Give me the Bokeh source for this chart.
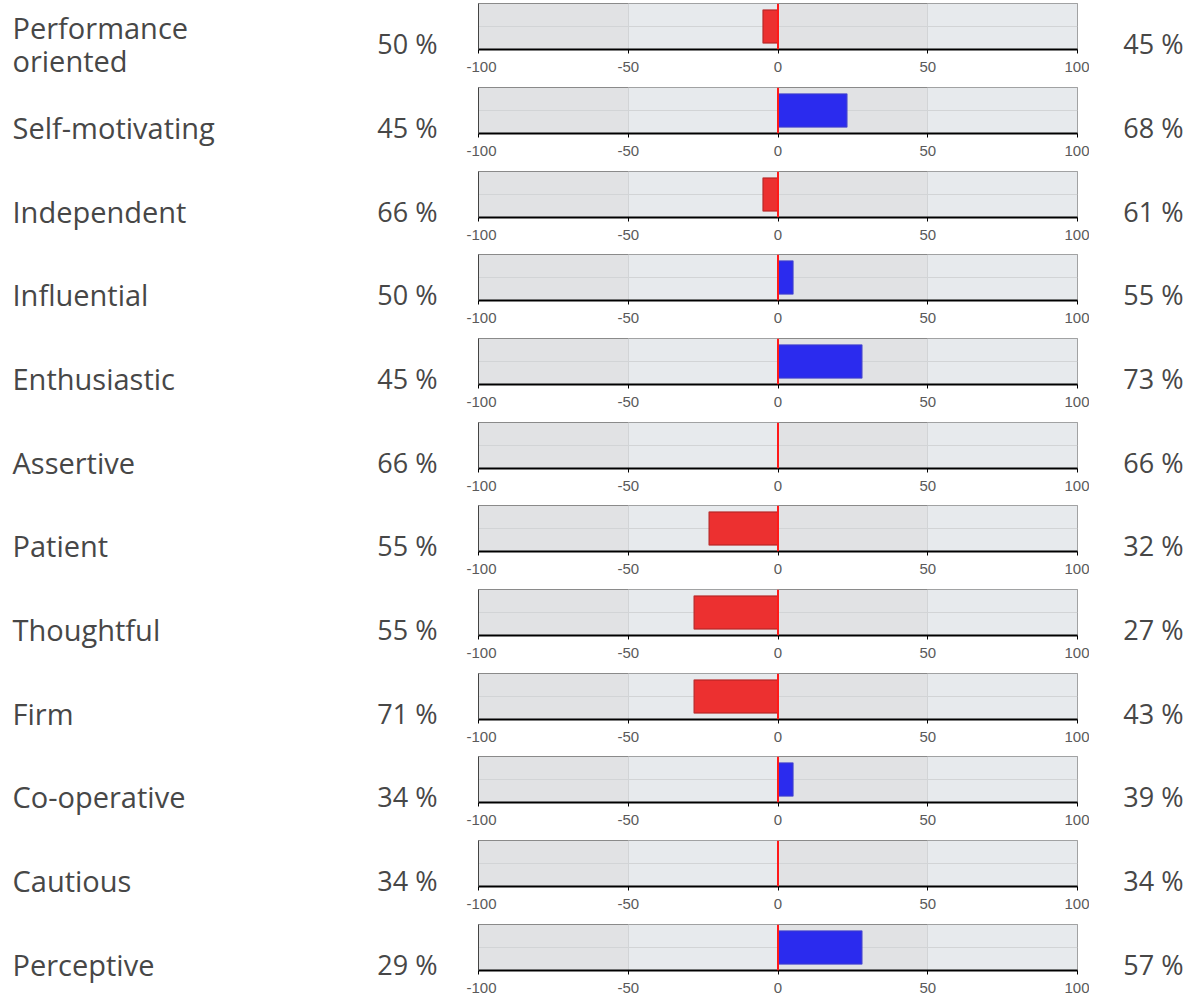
from bokeh.plotting import figure
from bokeh.layouts import column, row
from bokeh.models import Range1d, FixedTicker, Span
from bokeh.core.properties import value
from bokeh.embed import file_html
from bokeh.resources import INLINE

traits = ["Performance\noriented", "Self-motivating", "Independent", "Influential",
          "Enthusiastic", "Assertive", "Patient", "Thoughtful", "Firm",
          "Co-operative", "Cautious", "Perceptive"]
left_pct = [50, 45, 66, 50, 45, 66, 55, 55, 71, 34, 34, 29]
right_pct = [45, 68, 61, 55, 73, 66, 32, 27, 43, 39, 34, 57]
axis_ticks = [-100, -50, 0, 50, 100]
tick_text = {-100: "-100", -50: "-50", 0: "0", 50: "50", 100: "100"}

row_heights = [84, 84, 83, 84, 84, 83, 84, 84, 83, 84, 84, 77]

FONT = value("Open Sans")
TXT = "#474747"
LEFT_W, MAIN_W, RIGHT_W = 466, 623, 100
TEXT_MID = 43      # px from the row top
LINE_GAP = 33      # px between wrapped lines
H = sum(row_heights)


def text_fig(w, h):
    f = figure(width=w, height=h, output_backend="svg", toolbar_location=None,
               x_range=Range1d(0, w), y_range=Range1d(0, h),
               x_axis_type=None, y_axis_type=None,
               min_border=0, min_border_left=0, min_border_right=0,
               min_border_top=0, min_border_bottom=0)
    f.grid.visible = False
    f.outline_line_color = None
    f.background_fill_color = "white"
    return f


lf = text_fig(LEFT_W, H)
rf = text_fig(RIGHT_W, H)

name_x, name_y, name_t = [], [], []
lp_y, lp_t, rp_t = [], [], []
top = 0
for i, name in enumerate(traits):
    mid = H - (top + TEXT_MID)
    lines = name.split("\n")
    n = len(lines)
    for j, ln in enumerate(lines):
        name_x.append(12)
        name_y.append(mid - (j - (n - 1) / 2) * LINE_GAP)
        name_t.append(ln)
    lp_y.append(mid)
    lp_t.append(f"{left_pct[i]} %")
    rp_t.append(f"{right_pct[i]} %")
    top += row_heights[i]

lf.text(x=name_x, y=name_y, text=name_t, text_font=FONT, text_font_size="29px",
        text_color=TXT, text_baseline="middle", text_align="left")
lf.text(x=[437] * len(lp_y), y=lp_y, text=lp_t, text_font=FONT,
        text_font_size="27px", text_color=TXT, text_baseline="middle",
        text_align="right")
rf.text(x=[94] * len(lp_y), y=lp_y, text=rp_t, text_font=FONT,
        text_font_size="27px", text_color=TXT, text_baseline="middle",
        text_align="right")

mains = []
for i, name in enumerate(traits):
    h = row_heights[i]
    diff = right_pct[i] - left_pct[i]

    p = figure(width=MAIN_W, height=h, output_backend="svg", toolbar_location=None,
               x_range=Range1d(-100, 100), y_range=Range1d(0, 1),
               min_border_left=12, min_border_right=12,
               min_border_top=3, min_border_bottom=h - 49)
    p.background_fill_color = "#e1e2e4"
    p.border_fill_color = "white"
    p.outline_line_color = "#8a8a8a"
    p.outline_line_width = 1

    p.xaxis.ticker = FixedTicker(ticks=axis_ticks)
    p.xaxis.major_label_overrides = tick_text
    p.xaxis.axis_line_color = "black"
    p.xaxis.axis_line_width = 2
    p.xaxis.major_tick_line_color = "black"
    p.xaxis.major_tick_line_width = 1
    p.xaxis.major_tick_out = 4
    p.xaxis.major_tick_in = 0
    p.xaxis.minor_tick_line_color = None
    p.xaxis.major_label_standoff = 8
    p.xaxis.major_label_text_font = "Liberation Sans"
    p.xaxis.major_label_text_font_size = "15px"
    p.xaxis.major_label_text_color = "#5a5a5a"

    p.yaxis.ticker = FixedTicker(ticks=[])
    p.yaxis.minor_tick_line_color = None
    p.yaxis.major_tick_out = 0
    p.yaxis.major_label_standoff = 0
    p.yaxis.axis_line_color = "#444444"
    p.yaxis.axis_line_width = 1
    p.yaxis.major_label_text_font_size = "0px"

    p.xgrid.ticker = FixedTicker(ticks=axis_ticks)
    p.xgrid.grid_line_color = "#d2d4d6"
    p.xgrid.band_fill_color = "#e7eaed"
    p.xgrid.band_fill_alpha = 1.0
    p.ygrid.ticker = FixedTicker(ticks=[0.5])
    p.ygrid.grid_line_color = "#d2d4d6"

    if diff < 0:
        fill, line = "#ec3030", "#b82525"
    else:
        fill, line = "#2b2bee", "#3a3ad0"
    p.quad(left=[min(0, diff)], right=[max(0, diff)], bottom=[0.14], top=[0.86],
           fill_color=fill, line_color=line, line_width=1.5, line_alpha=0.8)

    p.add_layout(Span(location=0, dimension="height", line_color="#ff1a1a", line_width=2))
    mains.append(p)

layout = row(lf, column(*mains, spacing=0), rf, spacing=0)
open("out.html", "w").write(file_html(layout, INLINE))
